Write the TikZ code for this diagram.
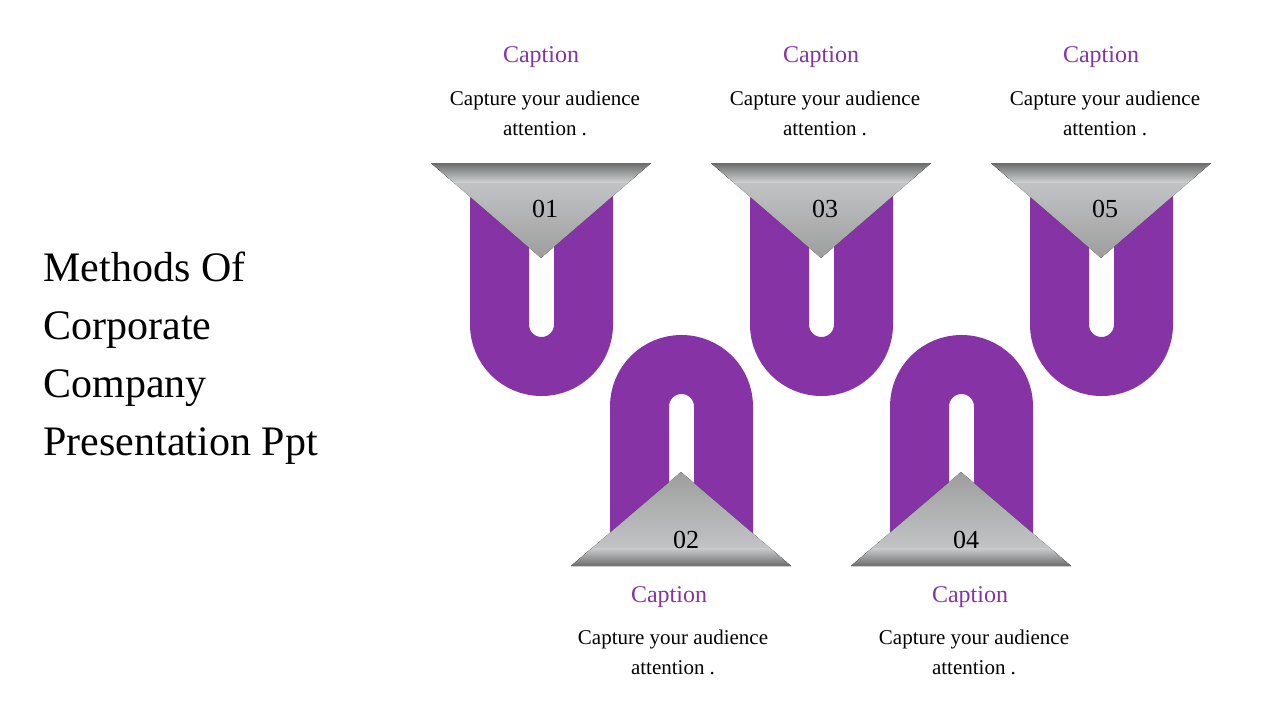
\documentclass[tikz,border=0pt]{standalone}
\usepackage{fontspec}
\setmainfont{Liberation Serif}
\definecolor{pur}{HTML}{8533A5}
\definecolor{lgray}{HTML}{CACCCE}
\definecolor{dgray}{HTML}{9E9E9E}
\tikzset{
  band/.style={draw=pur,line width=59pt},
  captext/.style={text=pur,font=\fontsize{24}{28}\selectfont},
  body/.style={align=center,font=\fontsize{21}{30}\selectfont},
  num/.style={font=\fontsize{26}{30}\selectfont},
  title/.style={align=left,anchor=north west,font=\fontsize{42}{58}\selectfont}
}
\begin{document}
\begin{tikzpicture}[x=1pt,y=-1pt]
\useasboundingbox (0,0) rectangle (1280,720);
% U shapes (top)
\foreach \c in {541.5,821.5,1101.5}{
  \draw[band] (\c-42,190) -- (\c-42,324.5) arc (180:0:42) -- (\c+42,190);
}
% n shapes (bottom)
\foreach \c in {681.5,961.5}{
  \draw[band] (\c-42,540) -- (\c-42,406.5) arc (180:360:42) -- (\c+42,540);
}
% top triangles
\foreach \c/\n in {541/01,821/03,1101/05}{
  \fill[top color=lgray,bottom color=dgray] (\c-110,163) -- (\c+110,163) -- (\c,258) -- cycle;
  \begin{scope}
    \clip (\c-110,163) -- (\c+110,163) -- (\c,258) -- cycle;
    \fill[top color=gray!85!black,bottom color=lgray] (\c-115,163) rectangle (\c+115,182);
  \end{scope}
  \node[num] (t\n) at (\c+4,209) {\n};
}
% bottom triangles
\foreach \c/\n in {681/02,961/04}{
  \fill[top color=dgray,bottom color=lgray] (\c-110,566) -- (\c+110,566) -- (\c,472) -- cycle;
  \begin{scope}
    \clip (\c-110,566) -- (\c+110,566) -- (\c,472) -- cycle;
    \fill[top color=lgray,bottom color=gray!85!black] (\c-115,548) rectangle (\c+115,566);
  \end{scope}
  \node[num] (t\n) at (\c+5,540) {\n};
}
% captions
\foreach \c/\k in {541/a,821/b,1101/c}{
  \node[captext] (c\k) at (\c,57) {Caption};
  \node[body] (d\k) at (\c+4,113) {Capture your audience\\attention .};
}
\foreach \c/\k in {669/d,970/e}{
  \node[captext] (c\k) at (\c,597) {Caption};
  \node[body] (d\k) at (\c+4,652) {Capture your audience\\attention .};
}
\node[title] (title) at (40,248) {Methods Of\\Corporate\\Company\\Presentation Ppt};
\end{tikzpicture}
\end{document}
